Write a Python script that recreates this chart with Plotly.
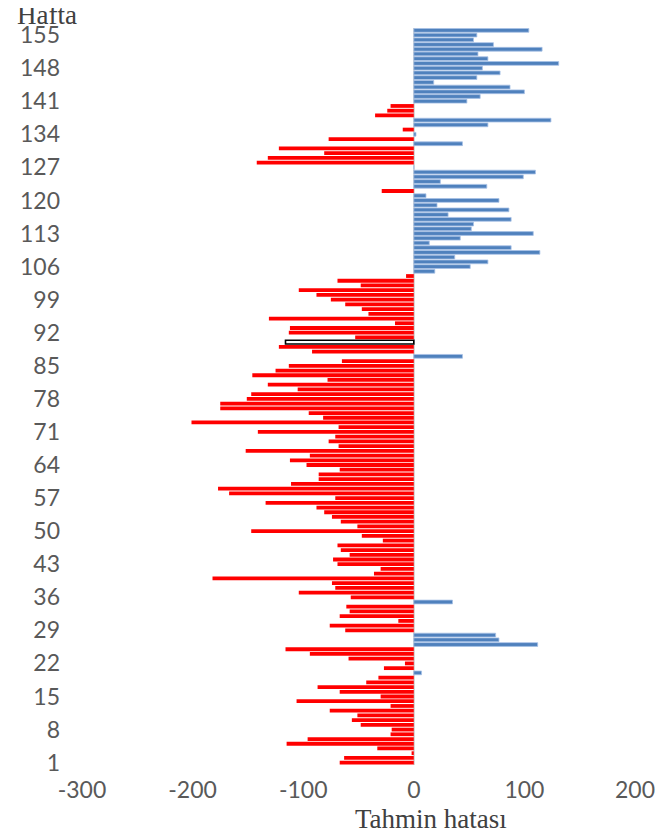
import plotly.graph_objects as go

# Weekly forecast errors (Hafta 1 .. 156)
weeks = list(range(1, 157))
errors = [
    -67, -63, -2, -33, -115, -96, -21, -20, -48, -56,
    -51, -76, -21, -106, -30, -67, -87, -43, -32, 7,
    -27, -8, -59, -94, -116, 112, 77, 74, -62, -76,
    -14, -67, -58, -61, 35, -57, -104, -71, -74, -182,
    -36, -30, -69, -73, -58, -66, -69, -28, -47, -147,
    -51, -66, -74, -81, -88, -134, -71, -167, -177, -111,
    -86, -86, -67, -97, -112, -94, -152, -68, -77, -71,
    -141, -68, -201, -82, -95, -175, -175, -151, -147, -105,
    -132, -78, -146, -125, -113, -65, 44, -92, -122, -116,
    -53, -113, -112, -17, -131, -41, -47, -62, -75, -88,
    -104, -48, -69, -7, 19, 51, 67, 37, 114, 88,
    14, 42, 108, 52, 54, 88, 31, 86, 21, 77,
    11, -29, 66, 24, 99, 110, 0, -142, -132, -81,
    -122, 44, -77, 2, -10, 67, 124, -35, -24, -21,
    48, 60, 100, 87, 18, 57, 78, 62, 131, 67,
    58, 116, 72, 54, 57, 104,
]
highlight_weeks = [90]
y_tick_weeks = list(range(1, 156, 7))
x_ticks = [-300, -200, -100, 0, 100, 200]

NEG = "#FF0000"
POS = "#4F81BD"

fill = []
edge = []
edge_w = []
for w, v in zip(weeks, errors):
    if w in highlight_weeks:
        fill.append("#FFFFFF")
        edge.append("#000000")
        edge_w.append(1.6)
    elif v < 0:
        fill.append(NEG)
        edge.append(NEG)
        edge_w.append(0)
    else:
        fill.append(POS)
        edge.append("#A8C2E6")
        edge_w.append(0.8)

fig = go.Figure(go.Bar(
    x=errors, y=weeks, orientation="h",
    marker=dict(color=fill, line=dict(color=edge, width=edge_w)),
    hoverinfo="x+y",
))

tick_font = dict(family="Lato, Liberation Sans, sans-serif", size=23, color="#595959")
title_font = dict(family="Liberation Serif, serif", size=27, color="#404040")

fig.update_layout(
    width=672, height=833,
    margin=dict(l=67, r=45, t=20, b=76),
    paper_bgcolor="white", plot_bgcolor="white",
    bargap=0.2,
    showlegend=False,
    xaxis=dict(
        range=[-300, 200], tickvals=x_ticks, ticktext=[str(t) for t in x_ticks],
        showgrid=False, zeroline=True, zerolinecolor="#D9D9D9", zerolinewidth=1.5,
        showline=False, ticks="", tickfont=tick_font, ticklabelstandoff=9,
    ),
    yaxis=dict(
        range=[0.5, 156.5], tickvals=y_tick_weeks, ticktext=[str(t) for t in y_tick_weeks],
        showgrid=False, zeroline=False, showline=False, ticks="",
        tickfont=tick_font, ticklabelstandoff=21,
    ),
    annotations=[
        dict(text="Hafta", xref="paper", yref="paper", x=-0.064, y=1.018,
             xanchor="center", yanchor="middle", showarrow=False, font=title_font),
        dict(text="Tahmin hatası", xref="paper", yref="paper", x=0.632, y=-0.0733,
             xanchor="center", yanchor="middle", showarrow=False, font=title_font),
    ],
)

fig.write_html("out.html")
